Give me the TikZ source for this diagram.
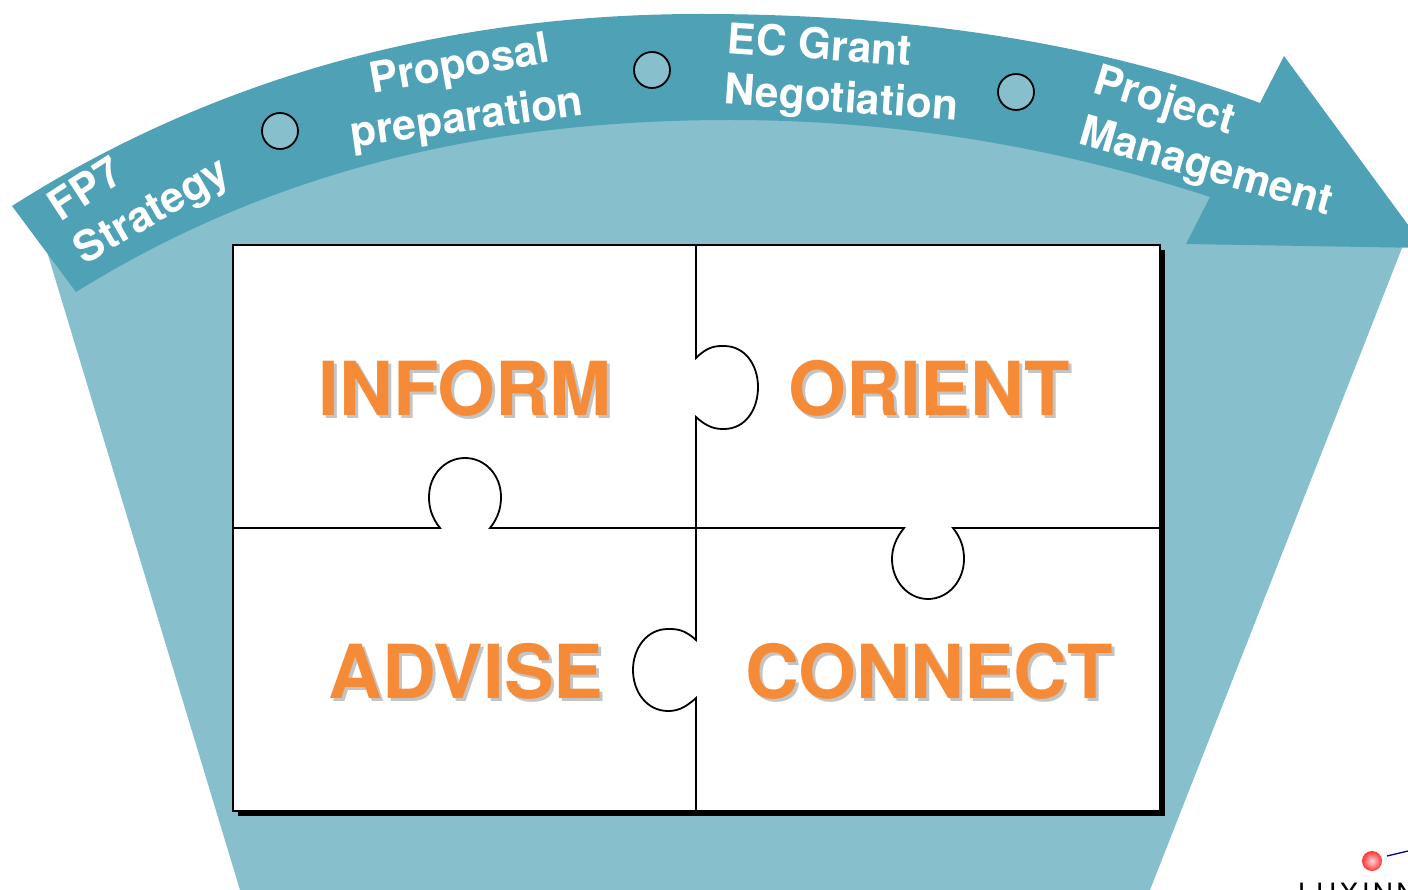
\documentclass[tikz,border=0pt]{standalone}
\usepackage{fontspec}
\setsansfont{TeX Gyre Heros}
\usepackage{tikz}
\usetikzlibrary{shapes,positioning}
\definecolor{bandteal}{HTML}{4FA1B5}
\definecolor{fanteal}{HTML}{88BFCC}
\definecolor{wordorange}{HTML}{F68B37}
\definecolor{wordshade}{HTML}{C4C4C4}
\tikzset{
  bandlabel/.style={text=white,font=\sffamily\bfseries\fontsize{42.5}{42.5}\selectfont,inner sep=0pt},
  bigword/.style={text=wordorange,font=\sffamily\bfseries\fontsize{74.5}{74.5}\selectfont,inner sep=0pt},
  bigshade/.style={text=wordshade,font=\sffamily\bfseries\fontsize{74.5}{74.5}\selectfont,inner sep=0pt},
  stepdot/.style={circle,draw=black,line width=1.8pt,fill=fanteal,minimum size=36pt,inner sep=0pt},
  piece/.style={draw=black,line width=1.8pt}
}
\begin{document}
\begin{tikzpicture}[x=1pt,y=-1pt]
  \useasboundingbox (0,0) rectangle (1408,890);
  \clip (0,0) rectangle (1408,890);
  % fan behind the arrow
  \fill [fanteal] (48,255) -- (240,890) -- (1150,890) -- (1402,248) -- (1100,100) -- (400,100) -- cycle;
  % curved arrow
  \fill [bandteal] (12,206) .. controls (232,66) and (470,14) .. (700,14)
    .. controls (900,14) and (1090,40) .. (1260,103)
    -- (1284,56) -- (1425,248) -- (1186,244) -- (1210,197)
    .. controls (1060,148) and (900,120) .. (730,120)
    .. controls (500,120) and (280,165) .. (76,292) -- cycle;
  \node [stepdot] (dota) at (280,131) {};
  \node [stepdot] (dotb) at (652,70) {};
  \node [stepdot] (dotc) at (1016,92) {};
  \node [bandlabel,rotate=33] (fpseven) at (85,188) {FP7};
  \node [bandlabel,rotate=30] (strategy) at (153,213) {Strategy};
  \node [bandlabel,rotate=10] (proposal) at (460,67) {Proposal};
  \node [bandlabel,rotate=8] (preparation) at (467,120) {preparation};
  \node [bandlabel,rotate=-4] (ecgrant) at (820,44) {EC Grant};
  \node [bandlabel,rotate=-4] (negotiation) at (841,101) {Negotiation};
  \node [bandlabel,rotate=-17] (project) at (1164,103) {Project};
  \node [bandlabel,rotate=-16] (management) at (1206,169) {Management};
  % puzzle
  \fill [black] (238,250) rectangle (1165,816);
  \draw [piece,fill=white] (233,245) rectangle (1160,811);
  \draw [piece] (696,245) -- (696,358) .. controls (708,346) and (716,346) .. (724,346)
    .. controls (745,346) and (758,365) .. (758,387)
    .. controls (758,410) and (745,429) .. (724,429)
    .. controls (716,429) and (708,428) .. (696,417) -- (696,640)
    .. controls (684,629) and (676,629) .. (668,629)
    .. controls (647,629) and (633,648) .. (633,670)
    .. controls (633,692) and (647,711) .. (668,711)
    .. controls (676,711) and (684,709) .. (696,698) -- (696,811);
  \draw [piece] (233,528) -- (440,528) .. controls (432,518) and (429,508) .. (429,497)
    .. controls (429,475) and (445,458) .. (465,458)
    .. controls (485,458) and (501,475) .. (501,497)
    .. controls (501,508) and (498,518) .. (490,528) -- (904,528)
    .. controls (896,538) and (892,548) .. (892,559)
    .. controls (892,581) and (908,599) .. (928,599)
    .. controls (948,599) and (964,581) .. (964,559)
    .. controls (964,548) and (961,538) .. (953,528) -- (1160,528);
  \node [bigshade] (informs) at (468,391) {INFORM};
  \node [bigshade] (orients) at (932,391) {ORIENT};
  \node [bigshade] (advises) at (469,674) {ADVISE};
  \node [bigshade] (connects) at (932,674) {CONNECT};
  \node [bigword] (inform) at (465,388) {INFORM};
  \node [bigword] (orient) at (929,388) {ORIENT};
  \node [bigword] (advise) at (466,671) {ADVISE};
  \node [bigword] (connect) at (929,671) {CONNECT};
  % logo in the corner
  \shade [inner color=red!15!white,outer color=red!80!white] (1372,861) circle (10);
  \draw [blue!60!black,line width=1.3pt] (1387,856) -- (1408,851);
  \node [anchor=base west,inner sep=0pt,font=\sffamily\fontsize{28}{28}\selectfont\addfontfeature{LetterSpace=12}] (logo) at (1298,903) {LUXINN};
\end{tikzpicture}
\end{document}
